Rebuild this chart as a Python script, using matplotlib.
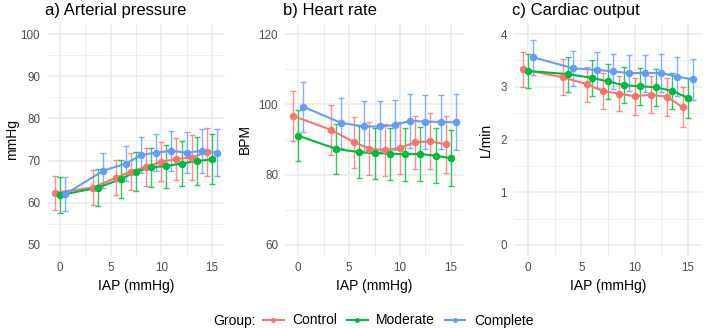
import numpy as np
import matplotlib
matplotlib.use('Agg')
import matplotlib.pyplot as plt
from matplotlib.lines import Line2D

plt.rcParams['font.family'] = ['Liberation Sans', 'DejaVu Sans']

# IAP steps (mmHg)
iap = [0, 3.75, 6, 7.5, 9, 10.5, 12, 13.5, 15]
groups = ['Control', 'Moderate', 'Complete']
colors = ['#F8766D', '#00BA38', '#619CFF']

# a) arterial pressure, mean and half width of error bar
ap_mean = [
    [62.4, 63.6, 65.9, 67.4, 68.5, 69.7, 70.4, 70.7, 72.0],
    [61.8, 63.6, 65.6, 67.4, 68.4, 68.7, 69.3, 69.9, 70.3],
    [62.0, 67.6, 69.3, 71.3, 71.9, 72.3, 71.9, 72.3, 71.9],
]
ap_err = [
    [4.05, 4.1, 4.15, 4.35, 4.6, 4.65, 5.0, 5.4, 5.75],
    [4.3, 4.35, 4.45, 4.55, 4.7, 5.1, 5.25, 5.65, 5.95],
    [4.05, 4.15, 4.2, 4.35, 4.45, 4.7, 4.9, 5.25, 5.65],
]

# b) heart rate
hr_mean = [
    [96.7, 92.7, 89.2, 87.4, 87.0, 87.6, 89.2, 89.5, 88.6],
    [91.1, 87.3, 86.4, 86.1, 86.0, 85.8, 85.9, 85.4, 84.7],
    [99.3, 94.7, 93.7, 93.7, 94.1, 95.3, 95.1, 95.0, 94.9],
]
hr_err = [
    [7.1, 7.2, 7.3, 7.5, 7.5, 7.5, 7.6, 7.9, 8.0],
    [7.2, 7.2, 7.3, 7.3, 7.4, 7.5, 7.7, 7.8, 8.0],
    [7.1, 7.2, 7.2, 7.2, 7.2, 7.6, 7.7, 7.8, 8.0],
]

# c) cardiac output
co_mean = [
    [3.33, 3.18, 3.05, 2.92, 2.87, 2.82, 2.85, 2.81, 2.61],
    [3.30, 3.24, 3.17, 3.10, 3.03, 3.01, 2.99, 2.92, 2.79],
    [3.56, 3.35, 3.32, 3.29, 3.26, 3.26, 3.26, 3.19, 3.14],
]
co_err = [
    [0.33, 0.34, 0.33, 0.34, 0.33, 0.35, 0.35, 0.36, 0.38],
    [0.33, 0.33, 0.34, 0.34, 0.34, 0.35, 0.35, 0.35, 0.38],
    [0.33, 0.33, 0.34, 0.34, 0.34, 0.35, 0.36, 0.37, 0.39],
]

W, H = 706, 328


def panel(fig, box, means, errs, title, ylabel, ylim, yticks, ylab_x):
    l, r, t, b = box
    ax = fig.add_axes([l / W, (H - b) / H, (r - l) / W, (b - t) / H])
    x = np.array(iap)
    offsets = [-0.5, 0, 0.5]
    for i in range(3):
        xs = x + offsets[i]
        ax.errorbar(xs, means[i], yerr=errs[i], fmt='none', ecolor=colors[i],
                    elinewidth=1.0, capsize=2.4, capthick=1.0, alpha=0.8, zorder=2)
    for i in range(3):
        xs = x + offsets[i]
        ax.plot(xs, means[i], color=colors[i], lw=1.5, zorder=3)
        ax.plot(xs, means[i], 'o', color=colors[i], ms=4.4, zorder=4)

    ax.set_xlim(-1.3, 16.3)
    span = ylim[1] - ylim[0]
    ax.set_ylim(ylim[0] - 0.05 * span, ylim[1] + 0.05 * span)
    ax.set_xticks([0, 5, 10, 15])
    ax.set_xticks([2.5, 7.5, 12.5], minor=True)
    ax.set_yticks(yticks)
    ax.set_yticks([(a + c) / 2 for a, c in zip(yticks[:-1], yticks[1:])], minor=True)
    ax.grid(which='major', color='#EBEBEB', lw=1.1)
    ax.grid(which='minor', color='#EBEBEB', lw=0.55)
    ax.set_axisbelow(True)
    for s in ax.spines.values():
        s.set_visible(False)
    ax.tick_params(which='both', length=0, labelsize=8.4, labelcolor='#4D4D4D', pad=5)
    ax.set_xlabel('IAP (mmHg)', fontsize=10, labelpad=3)
    fig.text(l / W - 0.003, (H - 15.5) / H, title, fontsize=12, ha='left', va='baseline')
    fig.text(ylab_x / W, (H - (t + b) / 2) / H, ylabel, fontsize=10, rotation=90,
             ha='center', va='center')
    return ax


def main():
    fig = plt.figure(figsize=(W / 100, H / 100), dpi=100)

    panel(fig, (47, 225, 23.5, 255.5), ap_mean, ap_err, 'a) Arterial pressure', 'mmHg',
          (50, 100), [50, 60, 70, 80, 90, 100], 12)
    panel(fig, (285, 464, 23.5, 255.5), hr_mean, hr_err, 'b) Heart rate', 'BPM',
          (60, 120), [60, 80, 100, 120], 245)
    panel(fig, (514, 702, 23.5, 255.5), co_mean, co_err, 'c) Cardiac output', 'L/min',
          (0, 4), [0, 1, 2, 3, 4], 486)

    handles = [Line2D([], [], color=c, lw=1.5, marker='o', ms=2.5) for c in colors]
    fig.text(213 / W, (H - 320.5) / H, 'Group:', fontsize=10, ha='left', va='center')
    fig.legend(handles, groups, loc='center left', bbox_to_anchor=(263 / W, (H - 320.5) / H),
               ncol=3, frameon=False, fontsize=10, handlelength=1.5, handletextpad=0.6,
               columnspacing=0.7, borderpad=0, borderaxespad=0)

    fig.savefig('out.png', dpi=100)


if __name__ == "__main__":
    main()
